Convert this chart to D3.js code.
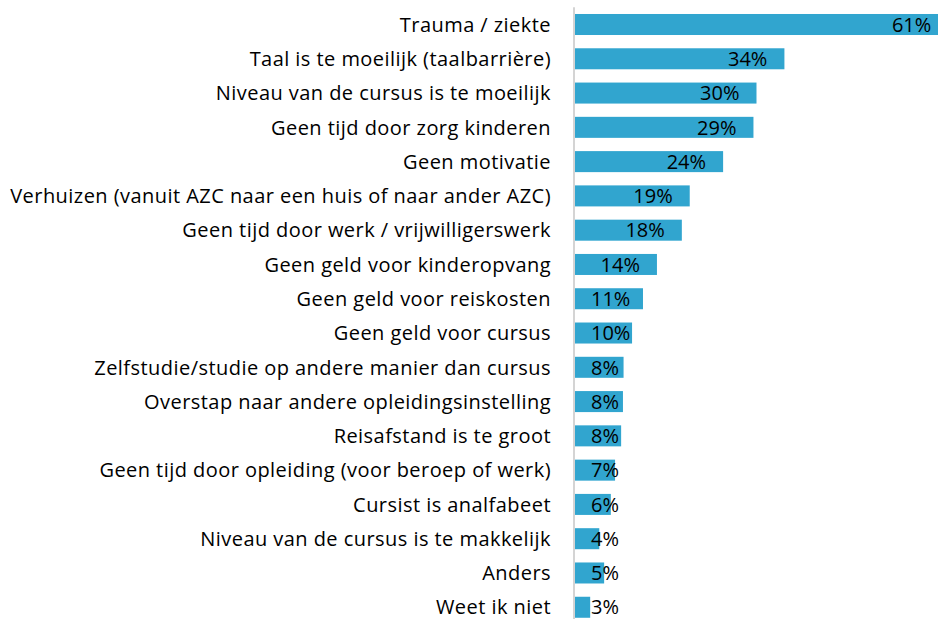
<!DOCTYPE html>
<html>
<head>
<meta charset="utf-8">
<script src="https://cdn.jsdelivr.net/npm/d3@7"></script>
<style>
  body { margin: 0; background: #fff; }
  text { font-family: "Open Sans", Lato, "Liberation Sans", sans-serif; fill: #000; }
</style>
</head>
<body>
<div id="chart"></div>
<script>
// reasons for stopping the course, top to bottom
const categories = [
  "Trauma / ziekte",
  "Taal is te moeilijk (taalbarrière)",
  "Niveau van de cursus is te moeilijk",
  "Geen tijd door zorg kinderen",
  "Geen motivatie",
  "Verhuizen (vanuit AZC naar een huis of naar ander AZC)",
  "Geen tijd door werk / vrijwilligerswerk",
  "Geen geld voor kinderopvang",
  "Geen geld voor reiskosten",
  "Geen geld voor cursus",
  "Zelfstudie/studie op andere manier dan cursus ",
  "Overstap naar andere opleidingsinstelling",
  "Reisafstand is te groot",
  "Geen tijd door opleiding (voor beroep of werk)",
  "Cursist is analfabeet",
  "Niveau van de cursus is te makkelijk",
  "Anders",
  "Weet ik niet"
];

// bar lengths (percent, unrounded)
const values = [61.5, 34.5, 29.9, 29.4, 24.4, 18.9, 17.6, 13.5, 11.2, 9.4, 8.0, 7.9, 7.6, 6.6, 5.9, 4.0, 4.8, 2.5];

// the rounded labels printed on the bars
const valueLabels = ["61%", "34%", "30%", "29%", "24%", "19%", "18%", "14%", "11%", "10%", "8%", "8%", "8%", "7%", "6%", "4%", "5%", "3%"];

const width = 938, height = 619;

const svg = d3.select("#chart")
  .append("svg")
  .attr("width", width)
  .attr("height", height);

const x = d3.scaleLinear()
  .domain([0, 100])
  .range([575, 575 + 607]);

const y = d3.scaleBand()
  .domain(categories)
  .range([7.36, 624.4])
  .paddingInner(0.387)
  .paddingOuter(0.1935);

// bars
svg.append("g")
  .selectAll("rect")
  .data(values)
  .join("rect")
  .attr("x", x(0))
  .attr("y", (d, i) => y(categories[i]))
  .attr("width", d => x(d) - x(0))
  .attr("height", y.bandwidth())
  .attr("fill", "#31a5cf");

// vertical axis line
svg.append("line")
  .attr("x1", x(0) - 1).attr("x2", x(0) - 1)
  .attr("y1", y.range()[0]).attr("y2", y.range()[1])
  .attr("stroke", "#d4d4d4")
  .attr("stroke-width", 2);

// category labels
svg.append("g")
  .selectAll("text")
  .data(categories)
  .join("text")
  .attr("x", 551)
  .attr("y", d => y(d) + y.bandwidth() / 2)
  .attr("dy", "0.36em")
  .attr("text-anchor", "end")
  .attr("font-size", 20)
  .attr("letter-spacing", 0.45)
  .text(d => d);

// value labels: inside end, but never left of the bar start padding
const vl = svg.append("g")
  .selectAll("text")
  .data(values)
  .join("text")
  .attr("y", (d, i) => y(categories[i]) + y.bandwidth() / 2)
  .attr("dy", "0.36em")
  .attr("font-size", 20)
  .text((d, i) => valueLabels[i]);

vl.attr("x", function(d) {
  const w = this.getComputedTextLength();
  return Math.max(x(d) - 17 - w, x(0) + 16);
});
</script>
</body>
</html>
